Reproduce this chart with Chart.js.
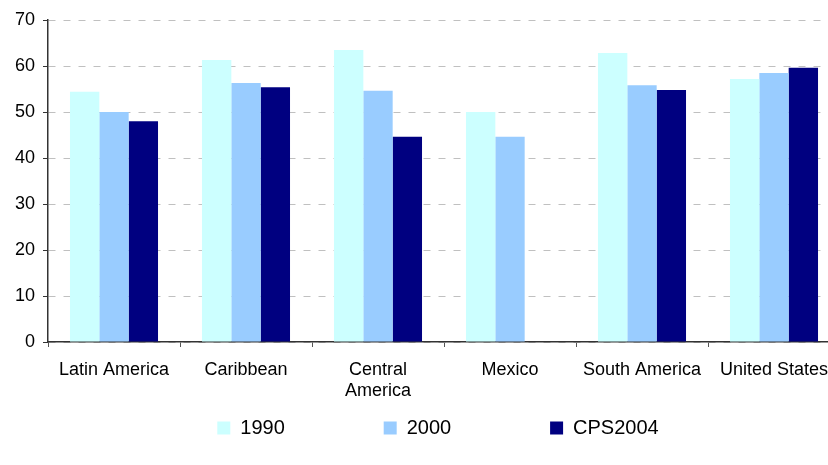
<!DOCTYPE html>
<html>
<head>
<meta charset="utf-8">
<script src="https://cdn.jsdelivr.net/npm/chart.js@4/dist/chart.umd.min.js"></script>
<style>
html,body{margin:0;padding:0;overflow:hidden;background:#fff;}
#wrap{width:878px;height:465px;position:relative;}
</style>
</head>
<body>
<div id="wrap"><canvas id="c"></canvas></div>
<script>
const categories = ['Latin America', 'Caribbean', ['Central', 'America'], 'Mexico', 'South America', 'United States'];
const seriesNames = ['1990', '2000', 'CPS2004'];
const series1990 = [54.4, 61.3, 63.5, 50.0, 62.8, 57.2];
const series2000 = [50.0, 56.3, 54.6, 44.6, 55.8, 58.5];
const seriesCPS2004 = [48.0, 55.4, 44.6, null, 54.8, 59.6];
const seriesColors = ['#CCFFFF', '#99CCFF', '#000080'];
const yTicks = [0, 10, 20, 30, 40, 50, 60, 70];

Chart.defaults.font.family = '"Liberation Sans", Arial, sans-serif';
Chart.defaults.color = '#000';

const gap = '                ';

const legendShift = {
  id: 'legendShift',
  afterLayout(chart) {
    if (chart.legend) { chart.legend.left += 18; chart.legend.right += 18; }
  }
};

new Chart(document.getElementById('c'), {
  type: 'bar',
  data: {
    labels: categories,
    datasets: [
      {label: seriesNames[0], data: series1990, backgroundColor: seriesColors[0]},
      {label: seriesNames[1], data: series2000, backgroundColor: seriesColors[1]},
      {label: seriesNames[2], data: seriesCPS2004, backgroundColor: seriesColors[2]}
    ]
  },
  plugins: [legendShift],
  options: {
    responsive: true,
    maintainAspectRatio: false,
    animation: false,
    datasets: {bar: {categoryPercentage: 0.667, barPercentage: 1.0}},
    layout: {padding: {top: 20, right: 38, left: 0, bottom: 17}},
    plugins: {
      tooltip: {enabled: false},
      legend: {
        position: 'bottom',
        labels: {
          font: {size: 20},
          boxWidth: 13,
          boxHeight: 13,
          padding: 10,
          color: '#000',
          generateLabels: (chart) => {
            const items = Chart.defaults.plugins.legend.labels.generateLabels(chart);
            items.forEach((it, i) => { if (i < items.length - 1) it.text = it.text + gap; it.lineWidth = 0; });
            return items;
          }
        }
      }
    },
    scales: {
      x: {
        grid: {drawOnChartArea: false, drawTicks: true, tickLength: 5, tickColor: '#555', offset: true},
        border: {color: '#333', width: 1.5},
        ticks: {font: {size: 18}, color: '#000', padding: 12, maxRotation: 0, autoSkip: false},
        afterFit: (s) => { s.height = 66; }
      },
      y: {
        min: 0, max: 70,
        afterBuildTicks: (s) => { s.ticks = yTicks.map(v => ({value: v})); },
        grid: {color: '#c0c0c0', lineWidth: 1, tickLength: 5, tickColor: '#333', tickBorderDash: [], drawTicks: true},
        border: {color: '#333', width: 1.5, dash: [7, 8]},
        ticks: {font: {size: 18}, color: '#000', padding: 8},
        afterFit: (s) => { s.width = 48; }
      }
    }
  }
});
</script>
</body>
</html>
